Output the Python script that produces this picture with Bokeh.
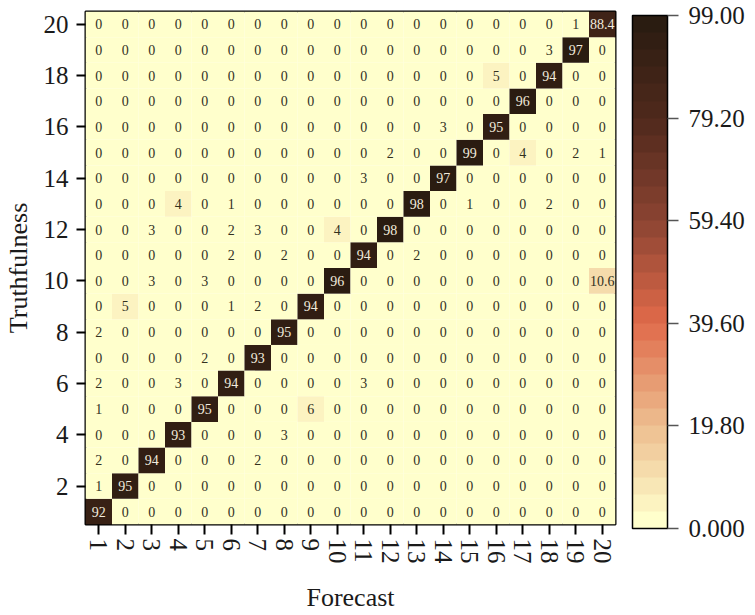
from bokeh.plotting import figure
from bokeh.models import (ColumnDataSource, LinearColorMapper, ColorBar, FixedTicker,
                          Range1d)
from bokeh.core.properties import value
from bokeh.embed import file_html
from bokeh.resources import INLINE

forecast_labels = list(range(1, 21))
truth_labels = list(range(1, 21))

# rows: Truthfulness 1..20 ; columns: Forecast 1..20
row_01 = [92, 0, 0, 0, 0, 0, 0, 0, 0, 0, 0, 0, 0, 0, 0, 0, 0, 0, 0, 0]
row_02 = [1, 95, 0, 0, 0, 0, 0, 0, 0, 0, 0, 0, 0, 0, 0, 0, 0, 0, 0, 0]
row_03 = [2, 0, 94, 0, 0, 0, 2, 0, 0, 0, 0, 0, 0, 0, 0, 0, 0, 0, 0, 0]
row_04 = [0, 0, 0, 93, 0, 0, 0, 3, 0, 0, 0, 0, 0, 0, 0, 0, 0, 0, 0, 0]
row_05 = [1, 0, 0, 0, 95, 0, 0, 0, 6, 0, 0, 0, 0, 0, 0, 0, 0, 0, 0, 0]
row_06 = [2, 0, 0, 3, 0, 94, 0, 0, 0, 0, 3, 0, 0, 0, 0, 0, 0, 0, 0, 0]
row_07 = [0, 0, 0, 0, 2, 0, 93, 0, 0, 0, 0, 0, 0, 0, 0, 0, 0, 0, 0, 0]
row_08 = [2, 0, 0, 0, 0, 0, 0, 95, 0, 0, 0, 0, 0, 0, 0, 0, 0, 0, 0, 0]
row_09 = [0, 5, 0, 0, 0, 1, 2, 0, 94, 0, 0, 0, 0, 0, 0, 0, 0, 0, 0, 0]
row_10 = [0, 0, 3, 0, 3, 0, 0, 0, 0, 96, 0, 0, 0, 0, 0, 0, 0, 0, 0, 10.6]
row_11 = [0, 0, 0, 0, 0, 2, 0, 2, 0, 0, 94, 0, 2, 0, 0, 0, 0, 0, 0, 0]
row_12 = [0, 0, 3, 0, 0, 2, 3, 0, 0, 4, 0, 98, 0, 0, 0, 0, 0, 0, 0, 0]
row_13 = [0, 0, 0, 4, 0, 1, 0, 0, 0, 0, 0, 0, 98, 0, 1, 0, 0, 2, 0, 0]
row_14 = [0, 0, 0, 0, 0, 0, 0, 0, 0, 0, 3, 0, 0, 97, 0, 0, 0, 0, 0, 0]
row_15 = [0, 0, 0, 0, 0, 0, 0, 0, 0, 0, 0, 2, 0, 0, 99, 0, 4, 0, 2, 1]
row_16 = [0, 0, 0, 0, 0, 0, 0, 0, 0, 0, 0, 0, 0, 3, 0, 95, 0, 0, 0, 0]
row_17 = [0, 0, 0, 0, 0, 0, 0, 0, 0, 0, 0, 0, 0, 0, 0, 0, 96, 0, 0, 0]
row_18 = [0, 0, 0, 0, 0, 0, 0, 0, 0, 0, 0, 0, 0, 0, 0, 5, 0, 94, 0, 0]
row_19 = [0, 0, 0, 0, 0, 0, 0, 0, 0, 0, 0, 0, 0, 0, 0, 0, 0, 3, 97, 0]
row_20 = [0, 0, 0, 0, 0, 0, 0, 0, 0, 0, 0, 0, 0, 0, 0, 0, 0, 0, 1, 88.4]

rows = [row_01, row_02, row_03, row_04, row_05, row_06, row_07, row_08, row_09, row_10,
        row_11, row_12, row_13, row_14, row_15, row_16, row_17, row_18, row_19, row_20]

colorbar_ticks = [0, 19.8, 39.6, 59.4, 79.2, 99]
colorbar_tick_labels = ["0.000", "19.80", "39.60", "59.40", "79.20", "99.00"]
y_ticks = [2, 4, 6, 8, 10, 12, 14, 16, 18, 20]

# palette: light yellow -> tan -> orange-red -> brown -> near black
anchors = [(0.0, (255, 255, 204)), (0.2, (236, 186, 140)), (0.4, (224, 106, 74)),
           (0.6, (140, 68, 50)), (0.8, (82, 42, 29)), (1.0, (42, 28, 17))]
n_bands = 30
palette = []
for i in range(n_bands):
    t = i / (n_bands - 1)
    for (t0, c0), (t1, c1) in zip(anchors[:-1], anchors[1:]):
        if t0 <= t <= t1:
            f = (t - t0) / (t1 - t0)
            c = tuple(int(round(a + (b - a) * f)) for a, b in zip(c0, c1))
            break
    palette.append("#%02x%02x%02x" % c)

mapper = LinearColorMapper(palette=palette, low=0, high=99)

xs, ys, vals, labels, tcols = [], [], [], [], []
for ti, row in zip(truth_labels, rows):
    for fi, v in zip(forecast_labels, row):
        xs.append(fi)
        ys.append(ti)
        vals.append(v)
        labels.append(str(int(v)) if float(v).is_integer() else "%.1f" % v)
        tcols.append("#f2ebdd" if v > 50 else "#33311f")

src = ColumnDataSource(dict(x=xs, y=ys, v=vals, lab=labels, tc=tcols))

FONT = "Liberation Serif"

p = figure(width=747, height=614, output_backend="svg", toolbar_location=None,
           x_range=Range1d(0.5, 20.5), y_range=Range1d(0.5, 20.5),
           min_border_left=77, min_border_top=11, min_border_bottom=85, min_border_right=110)
p.rect(x="x", y="y", width=1, height=1, source=src,
       fill_color={"field": "v", "transform": mapper}, line_color=None)
p.text(x="x", y="y", text="lab", source=src, text_color="tc",
       text_font=value(FONT), text_font_size="14px",
       text_align="center", text_baseline="middle")

p.grid.visible = False
p.outline_line_color = "black"
p.outline_line_width = 2

for ax in (p.xaxis[0], p.yaxis[0]):
    ax.axis_line_color = None
    ax.major_tick_line_color = "black"
    ax.major_tick_line_width = 2
    ax.major_tick_in = 0
    ax.minor_tick_line_color = None
    ax.major_label_text_font = FONT
    ax.major_label_text_font_size = "25px"
    ax.major_label_text_color = "#1a1a1a"
    ax.axis_label_text_font = FONT
    ax.axis_label_text_font_size = "26px"
    ax.axis_label_text_font_style = "normal"
    ax.axis_label_text_color = "#1a1a1a"

p.xaxis.ticker = FixedTicker(ticks=forecast_labels)
p.xaxis.major_label_orientation = "vertical"
p.xaxis.major_tick_out = 10
p.xaxis.major_label_standoff = 4
p.xaxis.axis_label = "Forecast"
p.xaxis.axis_label_standoff = 16

p.yaxis.ticker = FixedTicker(ticks=y_ticks)
p.yaxis.major_tick_out = 9
p.yaxis.major_label_standoff = 8
p.yaxis.axis_label = "Truthfulness"
p.yaxis.axis_label_standoff = 8

cb = ColorBar(color_mapper=mapper, ticker=FixedTicker(ticks=colorbar_ticks),
              major_label_overrides={t: l for t, l in zip(colorbar_ticks, colorbar_tick_labels)},
              width=35, height=513, padding=0, margin=0, location=(17, -4),
              bar_line_color="black", bar_line_width=1.5,
              major_tick_out=11, major_tick_in=0, major_tick_line_color="#555555",
              major_tick_line_width=1.5, minor_tick_line_color=None,
              label_standoff=10, major_label_text_font=FONT,
              major_label_text_font_size="25px", major_label_text_color="#1a1a1a",
              background_fill_alpha=0, border_line_color=None)
p.add_layout(cb, "right")

open("out.html", "w").write(file_html(p, INLINE))
